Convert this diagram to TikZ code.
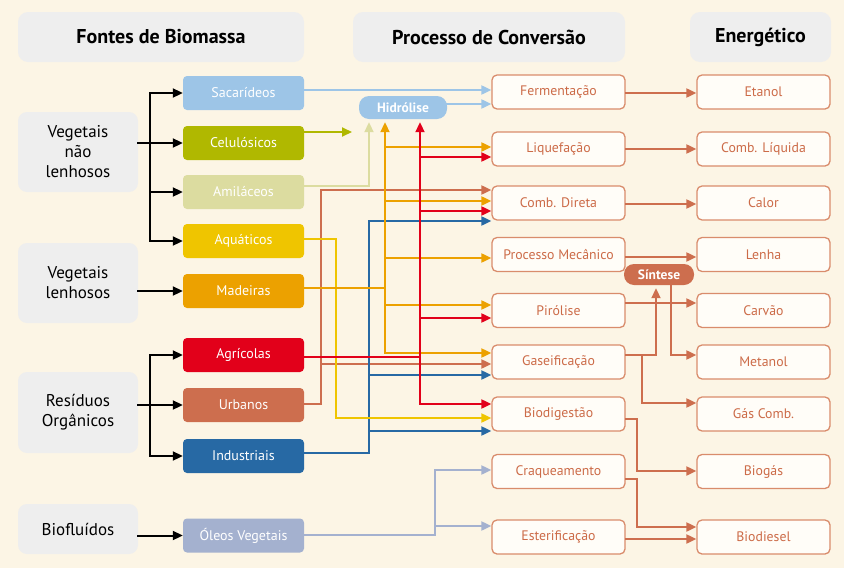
\documentclass[tikz,border=0pt]{standalone}
\usepackage{fontspec}
\setmainfont{PT Sans}
\usetikzlibrary{arrows.meta}
\definecolor{bgc}{HTML}{FCF5E5}
\definecolor{grayb}{HTML}{EEEEEE}
\definecolor{sacC}{HTML}{9DC5E7}
\definecolor{celC}{HTML}{B0B800}
\definecolor{amiC}{HTML}{DCDCA0}
\definecolor{aquC}{HTML}{EFC500}
\definecolor{madC}{HTML}{ECA100}
\definecolor{agrC}{HTML}{E2001A}
\definecolor{urbC}{HTML}{CD6E4E}
\definecolor{indC}{HTML}{2769A4}
\definecolor{oleC}{HTML}{A4B1CF}
\definecolor{procB}{HTML}{D98C6C}
\definecolor{procT}{HTML}{CC6B48}
\definecolor{boxw}{HTML}{FFFDF8}
\begin{document}
\begin{tikzpicture}[x=1pt,y=-1pt,
 hdr/.style={fill=grayb, rounded corners=10pt, inner sep=0pt, minimum height=50pt, font=\fontsize{20}{24}\selectfont\bfseries},
 cat/.style={fill=grayb, rounded corners=9pt, inner sep=0pt, minimum width=120pt, align=center, font=\fontsize{17}{20}\selectfont},
 src/.style={rounded corners=4pt, inner sep=0pt, minimum width=121pt, minimum height=34pt, text=white, font=\fontsize{14}{16}\selectfont},
 proc/.style={draw=procB, line width=1.3pt, fill=boxw, rounded corners=5pt, inner sep=0pt, minimum width=133pt, minimum height=34pt, text=procT, font=\fontsize{13.8}{16}\selectfont},
 pill/.style={rounded corners=10pt, inner sep=0pt, text=white, font=\fontsize{13.5}{15}\selectfont\bfseries},
 ln/.style={line width=2pt, line cap=rect},
 conn/.style={ln, -{Triangle[length=10pt,width=9pt]}},
]
\fill[bgc] (0,0) rectangle (844,568);
\useasboundingbox (0,0) rectangle (844,568);

% headers
\node[hdr, minimum width=286pt] (h1) at (161,37) {Fontes de Biomassa};
\node[hdr, minimum width=272pt] (h2) at (489,37) {Processo de Conversão};
\node[hdr, minimum width=141pt] (h3) at (760.5,37) {Energético};

% categories
\node[cat, minimum height=80pt] (vnl) at (78,152) {Vegetais\\não\\lenhosos};
\node[cat, minimum height=80pt] (vl) at (78,283) {Vegetais\\lenhosos};
\node[cat, minimum height=81pt] (ro) at (78,412.5) {Resíduos\\Orgânicos};
\node[cat, minimum height=50pt] (bf) at (78,529) {Biofluídos};

% sources
\node[src, fill=sacC] (sac) at (243.5,93) {Sacarídeos};
\node[src, fill=celC] (cel) at (243.5,143) {Celulósicos};
\node[src, fill=amiC] (ami) at (243.5,192) {Amiláceos};
\node[src, fill=aquC] (aqu) at (243.5,241) {Aquáticos};
\node[src, fill=madC] (mad) at (243.5,291) {Madeiras};
\node[src, fill=agrC] (agr) at (243.5,355) {Agrícolas};
\node[src, fill=urbC] (urb) at (243.5,405) {Urbanos};
\node[src, fill=indC] (ind) at (243.5,456) {Industriais};
\node[src, fill=oleC] (ole) at (243.5,535.5) {Óleos Vegetais};

% process
\node[proc] (ferm) at (558.5,92) {Fermentação};
\node[proc] (liq) at (558.5,149) {Liquefação};
\node[proc] (comb) at (558.5,203) {Comb. Direta};
\node[proc] (mec) at (558.5,254.5) {Processo Mecânico};
\node[proc] (pir) at (558.5,310.5) {Pirólise};
\node[proc] (gas) at (558.5,362) {Gaseificação};
\node[proc] (bio) at (558.5,414) {Biodigestão};
\node[proc] (craq) at (558.5,471.5) {Craqueamento};
\node[proc] (est) at (558.5,537) {Esterificação};

% energy
\node[proc] (eta) at (763.5,92) {Etanol};
\node[proc] (cl) at (763.5,149) {Comb. Líquida};
\node[proc] (cal) at (763.5,203) {Calor};
\node[proc] (len) at (763.5,254.5) {Lenha};
\node[proc] (carv) at (763.5,310.5) {Carvão};
\node[proc] (met) at (763.5,362) {Metanol};
\node[proc] (gc) at (763.5,414) {Gás Comb.};
\node[proc] (biog) at (763.5,471.5) {Biogás};
\node[proc] (biod) at (763.5,537) {Biodiesel};

% pills
\node[pill, fill=sacC, minimum width=88pt, minimum height=23pt] (hid) at (403,107.5) {Hidrólise};
\node[pill, fill=urbC, minimum width=70pt, minimum height=21pt] (sin) at (659,274.5) {Síntese};

% black connectors
\coordinate (bx) at (150,0);
\draw[ln,black] (vnl.east |- cel) -- (bx |- cel);
\draw[conn,black] (bx |- aqu) |- (sac);
\draw[conn,black] (bx |- cel) -- (cel);
\draw[conn,black] (bx |- ami) -- (ami);
\draw[conn,black] (bx |- aqu) -- (aqu);
\draw[conn,black] (vl.east |- mad) -- (mad);
\draw[ln,black] (ro.east |- urb) -- (bx |- urb);
\draw[conn,black] (bx |- ind) |- (agr);
\draw[conn,black] (bx |- urb) -- (urb);
\draw[conn,black] (bx |- ind) -- (ind);
\draw[conn,black] (bf.east |- ole) -- (ole);

% coloured connectors
\coordinate (celend) at (352,132);
\draw[conn,sacC] (sac.east |- 0,90) -- (ferm.west |- 0,90);
\draw[conn,sacC] (hid.east |- 0,104) -- (ferm.west |- 0,104);
\draw[conn,celC] (cel.east |- 0,132) -- (celend);
\draw[conn,amiC,shorten >=3pt] (ami.east |- 0,186) -| (369,0 |- hid.south);

\draw[conn,urbC] (urb.east |- 0,404) -- (321,404) -- (321,190) -- (comb.west |- 0,190);
\draw[conn,urbC] (321,364) -- (gas.west |- 0,364);

\draw[conn,indC] (ind.east |- 0,453) -- (369,453) -- (369,221) -- (comb.west |- 0,221);
\draw[conn,indC] (369,375) -- (gas.west |- 0,375);
\draw[conn,indC] (369,431) -- (bio.west |- 0,431);

\draw[conn,aquC] (aqu.east |- 0,239) -- (336,239) -- (336,418) -- (bio.west |- 0,418);

\draw[ln,madC] (mad.east |- 0,288) -- (385,288);
\draw[conn,madC,shorten >=3pt] (385,353) -- (385,0 |- hid.south);
\draw[conn,madC] (385,147) -- (liq.west |- 0,147);
\draw[conn,madC] (385,201) -- (comb.west |- 0,201);
\draw[conn,madC] (385,258) -- (mec.west |- 0,258);
\draw[conn,madC] (385,305) -- (pir.west |- 0,305);
\draw[conn,madC] (385,353) -- (gas.west |- 0,353);

\draw[ln,agrC] (agr.east |- 0,357) -- (420,357);
\draw[conn,agrC,shorten >=3pt] (420,404) -- (420,0 |- hid.south);
\draw[conn,agrC] (420,157) -- (liq.west |- 0,157);
\draw[conn,agrC] (420,211) -- (comb.west |- 0,211);
\draw[conn,agrC] (420,318) -- (pir.west |- 0,318);
\draw[conn,agrC] (420,404) -- (bio.west |- 0,404);

\draw[conn,oleC] (ole.east |- 0,535) -- (435,535) -- (435,470) -- (craq.west |- 0,470);
\draw[conn,oleC] (435,526) -- (est.west |- 0,526);

% process -> energy
\draw[conn,urbC] (ferm.east |- 0,93) -- (eta.west |- 0,93);
\draw[conn,urbC] (liq.east |- 0,149) -- (cl.west |- 0,149);
\draw[conn,urbC] (comb.east |- 0,204) -- (cal.west |- 0,204);
\draw[conn,urbC] (mec.east |- 0,257) -- (len.west |- 0,257);
\draw[conn,urbC] (pir.east |- 0,303) -- (carv.west |- 0,303);
\draw[ln,urbC] (gas.east |- 0,355) -- (656,355);
\draw[conn,urbC,shorten >=3pt] (656,355) -- (656,0 |- sin.south);
\draw[conn,urbC] (671,0 |- sin.south) -- (671,355) -- (met.west |- 0,355);
\draw[conn,urbC] (642,355) -- (642,403) -- (gc.west |- 0,403);
\draw[conn,urbC] (bio.east |- 0,419) -- (637,419) -- (637,471) -- (biog.west |- 0,471);
\draw[conn,urbC] (craq.east |- 0,479) -- (637,479) -- (637,527) -- (biod.west |- 0,527);
\draw[conn,urbC] (est.east |- 0,539) -- (biod.west |- 0,539);
\end{tikzpicture}
\end{document}
